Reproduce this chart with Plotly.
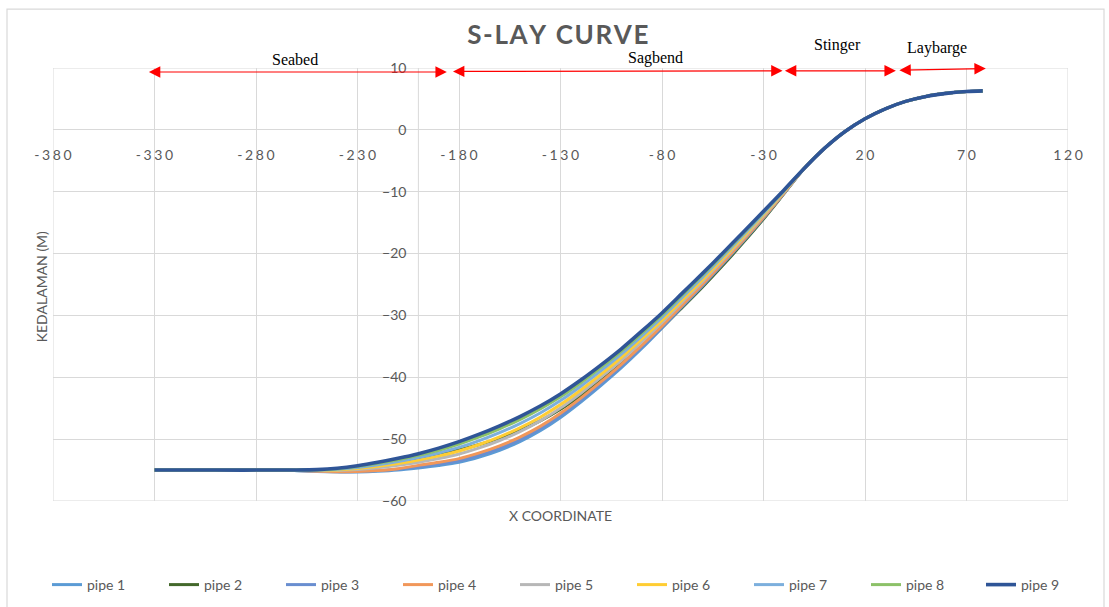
import plotly.graph_objects as go

# ---- data -------------------------------------------------------------
pipe_names = ["pipe 1", "pipe 2", "pipe 3", "pipe 4", "pipe 5",
              "pipe 6", "pipe 7", "pipe 8", "pipe 9"]
pipe_colors = ["#5B9BD5", "#43682B", "#698ED0", "#F1975A", "#B7B7B7",
               "#FFCD33", "#7CAFDD", "#8CC168", "#2F5597"]

# seabed + sagbend section, where the pipes differ
x_sag = [-330, -300, -270, -260, -250, -240, -230, -220, -210, -200,
         -190, -180, -170, -160, -150, -140, -130, -120, -110, -100,
         -90, -80, -70, -60, -50, -40, -30, -20]

y_sag = {
    "pipe 1": [-55.00, -55.00, -55.00, -55.09, -55.22, -55.30, -55.30, -55.20, -55.00, -54.65,
               -54.25, -53.75, -52.90, -51.80, -50.40, -48.65, -46.50, -44.00, -41.30, -38.45,
               -35.35, -32.02, -28.56, -25.14, -21.61, -17.99, -14.23, -10.29],
    "pipe 2": [-55.00, -55.00, -55.00, -55.01, -54.98, -54.82, -54.50, -54.07, -53.59, -53.04,
               -52.43, -51.74, -50.87, -49.83, -48.58, -47.05, -45.17, -42.94, -40.48, -37.84,
               -34.96, -31.95, -28.70, -25.39, -21.90, -18.23, -14.41, -10.35],
    "pipe 3": [-55.00, -55.00, -55.00, -55.08, -55.20, -55.25, -55.22, -55.08, -54.85, -54.47,
               -54.03, -53.48, -52.60, -51.48, -50.08, -48.33, -46.20, -43.72, -41.04, -38.21,
               -35.13, -31.95, -28.56, -25.18, -21.65, -18.02, -14.25, -10.30],
    "pipe 4": [-55.00, -55.00, -55.00, -55.07, -55.18, -55.26, -55.24, -55.08, -54.78, -54.24,
               -53.75, -53.15, -52.23, -51.09, -49.67, -47.93, -45.82, -43.36, -40.71, -37.90,
               -34.85, -31.69, -28.33, -24.96, -21.46, -17.86, -14.13, -10.24],
    "pipe 5": [-55.00, -55.00, -55.00, -55.05, -55.10, -55.06, -54.90, -54.62, -54.24, -53.73,
               -53.13, -52.41, -51.42, -50.22, -48.78, -47.05, -44.98, -42.58, -39.98, -37.23,
               -34.23, -31.13, -27.81, -24.49, -21.04, -17.51, -13.87, -10.11],
    "pipe 6": [-55.00, -55.00, -55.00, -55.04, -55.06, -54.97, -54.75, -54.40, -53.96, -53.39,
               -52.71, -51.91, -50.87, -49.63, -48.17, -46.45, -44.41, -42.05, -39.49, -36.77,
               -33.81, -30.75, -27.46, -24.17, -20.76, -17.27, -13.69, -10.02],
    "pipe 7": [-55.00, -55.00, -55.00, -55.02, -55.00, -54.87, -54.58, -54.16, -53.63, -52.99,
               -52.23, -51.34, -50.24, -48.96, -47.48, -45.77, -43.76, -41.44, -38.92, -36.25,
               -33.33, -30.31, -27.06, -23.80, -20.43, -17.00, -13.49, -9.92],
    "pipe 8": [-55.00, -55.00, -55.00, -55.00, -54.96, -54.77, -54.42, -53.92, -53.33, -52.63,
               -51.79, -50.80, -49.64, -48.32, -46.84, -45.13, -43.16, -40.88, -38.40, -35.77,
               -32.89, -29.91, -26.68, -23.46, -20.13, -16.74, -13.29, -9.82],
    "pipe 9": [-55.00, -55.00, -55.00, -54.99, -54.92, -54.70, -54.30, -53.75, -53.10, -52.35,
               -51.45, -50.40, -49.20, -47.85, -46.35, -44.65, -42.70, -40.45, -38.00, -35.40,
               -32.55, -29.60, -26.40, -23.20, -19.90, -16.55, -13.15, -9.75],
}

# stinger + laybarge section, common to every pipe
x_top = [-10, 0, 10, 20, 30, 40, 50, 60, 70, 78]
y_top = [-6.25, -3.0, -0.3, 1.8, 3.4, 4.6, 5.4, 5.9, 6.2, 6.3]

x_ticks = [-380, -330, -280, -230, -180, -130, -80, -30, 20, 70, 120]
y_ticks = [10, 0, -10, -20, -30, -40, -50, -60]

# zone markers: label, arrow start x, start y, end x, end y, label x, label px-row
zones = [
    ("Seabed",   -333.5, 9.35, -186.0, 9.35, -261.0, 59),
    ("Sagbend",  -183.7, 9.45, -20.6, 9.55, -83.0, 57),
    ("Stinger",  -20.2, 9.55, 35.2, 9.55, 6.5, 44),
    ("Laybarge", 36.2, 9.65, 79.5, 9.90, 55.3, 47),
]

# ---- figure -----------------------------------------------------------
TXT = "#595959"
GRID = "#D9D9D9"
FONT = "Lato, 'Open Sans', sans-serif"
PLOT_L, PLOT_R, PLOT_T, PLOT_B = 53, 1068, 67.5, 501
PW, PH = PLOT_R - PLOT_L, PLOT_B - PLOT_T


def px_x(px):
    return (px - PLOT_L) / PW


def px_y(py):
    return (PLOT_B - py) / PH


fig = go.Figure()
for name, color in zip(pipe_names, pipe_colors):
    fig.add_trace(go.Scatter(
        x=x_sag + x_top,
        y=y_sag[name] + y_top,
        mode="lines",
        name=name,
        legend="legend2" if name == "pipe 9" else "legend",
        line=dict(color=color, width=3.6 if name == "pipe 9" else 3,
                  shape="spline", smoothing=0.8),
    ))

spaced = lambda s: "\u2009\u200a".join(s)
legend_style = dict(orientation="h", xref="container", yref="container",
                    xanchor="left", y=1 - 585 / 607, yanchor="middle",
                    entrywidth=72, entrywidthmode="pixels",
                    font=dict(size=14, color=TXT), bgcolor="rgba(0,0,0,0)")

fig.update_layout(
    width=1109, height=607,
    margin=dict(l=PLOT_L, r=1109 - PLOT_R, t=PLOT_T, b=607 - PLOT_B,
                autoexpand=False),
    paper_bgcolor="white", plot_bgcolor="white",
    font=dict(family=FONT, color=TXT, size=14),
    title=dict(text="<b>" + "\u200a".join("S-LAY CURVE") + "</b>",
               x=0.503, xanchor="center", y=1 - 35 / 607, yanchor="middle",
               font=dict(size=26, color=TXT, family=FONT)),
    xaxis=dict(range=[-380, 120], tickvals=x_ticks,
               ticktext=[spaced(str(v)) for v in x_ticks],
               showgrid=True, gridcolor=GRID, gridwidth=1,
               zeroline=False, showline=False, ticks="",
               anchor="free", position=60 / 70, ticklabelstandoff=15,
               tickfont=dict(size=14, color=TXT)),
    yaxis=dict(range=[-60, 10], tickvals=y_ticks,
               showgrid=True, gridcolor=GRID, gridwidth=1,
               zeroline=False, showline=False, ticks="",
               anchor="free", position=180 / 500, ticklabelstandoff=12,
               tickfont=dict(size=14, color=TXT)),
    showlegend=True,
    legend=dict(x=47 / 1109, **legend_style),
    legend2=dict(x=981 / 1109, **legend_style),
)

# outer gridlines on the range edges and the vertical axis crossing at x = -200
fig.add_shape(type="rect", xref="x", yref="y", x0=-380, x1=120, y0=-60, y1=10,
              line=dict(color=GRID, width=1), layer="below")
fig.add_shape(type="line", xref="x", yref="y", x0=-200, x1=-200, y0=-60, y1=10,
              line=dict(color=GRID, width=1), layer="below")
# chart frame
fig.add_shape(type="rect", xref="paper", yref="paper",
              x0=px_x(7), x1=px_x(1104), y0=px_y(640), y1=px_y(8.5),
              line=dict(color=GRID, width=1.2), fillcolor="rgba(0,0,0,0)")

# axis titles
fig.add_annotation(text="KEDALAMAN (M)", xref="paper", yref="paper",
                   x=px_x(41), y=px_y(287), textangle=-90,
                   xanchor="center", yanchor="middle",
                   showarrow=False, font=dict(size=14, color=TXT))
fig.add_annotation(text="X COORDINATE", xref="paper", yref="paper",
                   x=px_x(560), y=px_y(516), xanchor="center", yanchor="middle",
                   showarrow=False, font=dict(size=14, color=TXT))

# zone arrows and labels
for label, xs, ys, xe, ye, xl, yl in zones:
    fig.add_annotation(x=xe, y=ye, ax=xs, ay=ys, xref="x", yref="y",
                       axref="x", ayref="y", text="", showarrow=True,
                       arrowside="end+start", arrowhead=2, startarrowhead=2,
                       arrowsize=1.9, startarrowsize=1.9, arrowwidth=1.2,
                       arrowcolor="#FF0000", standoff=0, startstandoff=0)
    fig.add_annotation(x=xl, y=px_y(yl), xref="x", yref="paper", text=label,
                       showarrow=False, xanchor="center", yanchor="middle",
                       font=dict(family="'Liberation Serif', 'Times New Roman', serif",
                                 size=16, color="black"))

fig.write_html("out.html")
